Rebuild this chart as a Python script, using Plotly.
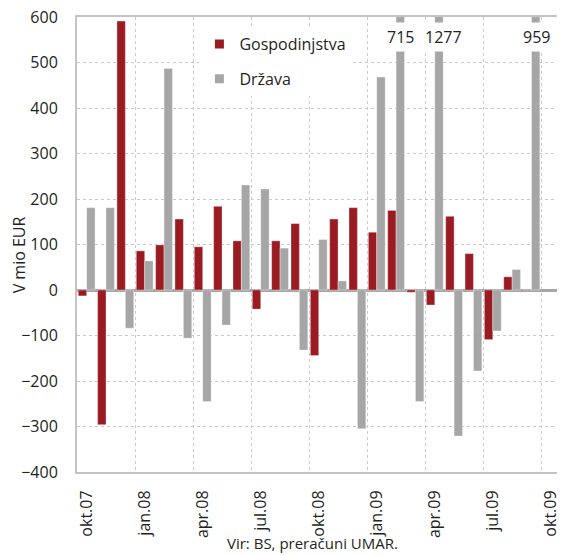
import plotly.graph_objects as go

# Monthly flows, okt.07 - sep.09 (mio EUR)
months = ["okt.07", "nov.07", "dec.07", "jan.08", "feb.08", "mar.08",
          "apr.08", "maj.08", "jun.08", "jul.08", "avg.08", "sep.08",
          "okt.08", "nov.08", "dec.08", "jan.09", "feb.09", "mar.09",
          "apr.09", "maj.09", "jun.09", "jul.09", "avg.09", "sep.09"]
gospodinjstva = [-13, -296, 591, 86, 99, 156, 95, 184, 108, -42, 108, 146,
                 -144, 156, 181, 127, 175, -5, -33, 162, 80, -109, 29, 1]
drzava = [181, 181, -84, 64, 487, -106, -245, -77, 231, 222, 92, -132,
          111, 20, -305, 468, 715, -245, 1277, -321, -178, -90, 45, 959]

tick_pos = [0, 3, 6, 9, 12, 15, 18, 21, 24]
tick_labels = ["okt.07", "jan.08", "apr.08", "jul.08", "okt.08",
               "jan.09", "apr.09", "jul.09", "okt.09"]
y_ticks = list(range(-400, 601, 100))

RED = "#9b1b23"
GREY = "#a6a6a6"
INK = "#231f20"
GRID = "#c9c9c9"
FONT = "Open Sans"
FS = 16
Y_MAX = 600

x = list(range(len(months)))

fig = go.Figure()
fig.add_trace(go.Bar(x=x, y=gospodinjstva, name="Gospodinjstva",
                     marker=dict(color=RED, line=dict(color="rgba(255,255,255,0.35)", width=1)),
                     showlegend=False))
fig.add_trace(go.Bar(x=x, y=drzava, name="Država",
                     marker=dict(color=GREY, line=dict(color="rgba(255,255,255,0.35)", width=1)),
                     showlegend=False))

# legend entries with small square keys
for name, col in (("Gospodinjstva", RED), ("Država", GREY)):
    fig.add_trace(go.Scatter(x=[None], y=[None], mode="markers", name=name,
                             legendgroup=name,
                             marker=dict(symbol="square", size=9, color=col)))

# values of the bars that run off the top of the axis
shift = {16: 4, 18: 9, 23: 5}
for i, v in enumerate(drzava):
    if v > Y_MAX:
        fig.add_annotation(x=x[i], y=556, xref="x", yref="y", text=str(v),
                           showarrow=False, xshift=shift.get(i, 4),
                           bgcolor="white", borderpad=3,
                           font=dict(family=FONT, size=FS, color=INK))

fig.add_annotation(x=-0.12, y=0.477, xref="paper", yref="paper",
                   xanchor="center", yanchor="middle",
                   text="V mio EUR", textangle=-90, showarrow=False,
                   font=dict(family=FONT, size=FS, color=INK))
fig.add_annotation(x=0.49, y=-0.1824, xref="paper", yref="paper",
                   xanchor="center", yanchor="bottom",
                   text="Vir: BS, preračuni UMAR.", showarrow=False,
                   font=dict(family=FONT, size=FS - 1, color=INK))

fig.update_layout(
    width=561, height=555,
    margin=dict(l=77, r=0, t=17, b=83),
    paper_bgcolor="white", plot_bgcolor="white",
    barmode="group", bargap=0.13, bargroupgap=0,
    font=dict(family=FONT, size=FS, color=INK),
    legend=dict(x=0.255, y=0.978, xanchor="left", yanchor="top",
                bgcolor="white", traceorder="grouped", tracegroupgap=11,
                font=dict(family=FONT, size=FS, color=INK)),
    xaxis=dict(range=[-0.5, 24.32], tickvals=tick_pos, ticktext=tick_labels,
               tickangle=-90, ticks="", ticklabelstandoff=10,
               ticklabeloverflow="allow",
               showgrid=False, zeroline=False,
               showline=True, linecolor="#c4c4c4", linewidth=2, mirror=True,
               minor=dict(tickvals=[p - 0.5 for p in tick_pos], showgrid=True,
                          gridcolor=GRID, griddash="dot", gridwidth=1, ticks="")),
    yaxis=dict(range=[-400, Y_MAX], tickvals=y_ticks, ticks="",
               ticklabelstandoff=14,
               showgrid=True, gridcolor=GRID, griddash="dot", gridwidth=1,
               zeroline=True, zerolinecolor=GREY, zerolinewidth=2.5,
               showline=True, linecolor="#c4c4c4", linewidth=2),
)

fig.write_html("out.html")
